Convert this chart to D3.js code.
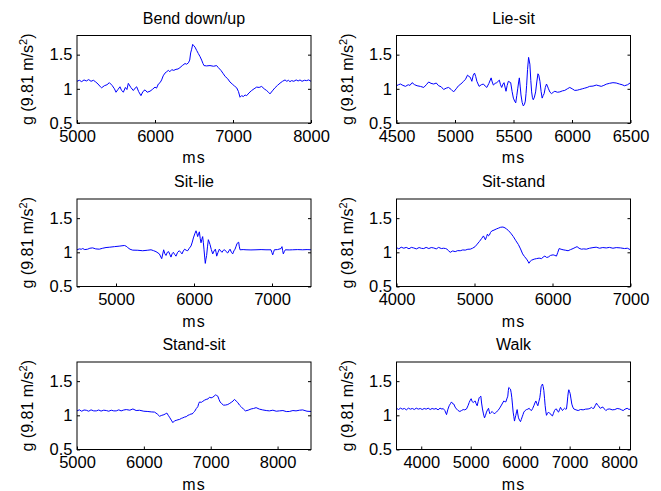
<!DOCTYPE html>
<html>
<head>
<meta charset="utf-8">
<script src="https://cdn.jsdelivr.net/npm/d3@7"></script>
<style>
body { margin: 0; background: #fff; }
text { font-family: "Liberation Sans", Arial, sans-serif; fill: #000; }
</style>
</head>
<body>
<script>
// accelerometer magnitude, [ms, g]
var bendDownUp = [
[5000,1.11],[5030,1.125],[5060,1.105],[5090,1.13],[5120,1.115],[5150,1.135],[5180,1.11],[5210,1.125],[5240,1.1],[5270,1.07],
[5300,1.03],[5316,1.015],[5350,1.045],[5385,1.06],[5415,1.09],[5450,1.05],[5480,1.0],[5500,0.95],[5525,0.99],[5551,1.03],
[5570,0.98],[5594,0.95],[5620,1.02],[5640,0.99],[5658,1.08],[5690,1.02],[5722,0.975],[5745,1.01],[5765,1.03],[5790,0.96],
[5820,0.90],[5845,0.96],[5872,0.985],[5900,0.95],[5936,0.965],[5965,0.99],[6000,1.025],[6020,1.01],[6043,1.07],[6065,1.09],
[6085,1.13],[6105,1.19],[6128,1.23],[6150,1.25],[6171,1.27],[6190,1.25],[6214,1.28],[6240,1.27],[6269,1.285],[6295,1.29],
[6320,1.31],[6350,1.34],[6385,1.37],[6405,1.36],[6428,1.38],[6445,1.42],[6457,1.525],[6470,1.58],[6483,1.65],[6498,1.63],
[6513,1.61],[6535,1.56],[6556,1.515],[6578,1.47],[6598,1.42],[6615,1.37],[6628,1.34],[6660,1.335],[6705,1.34],[6750,1.33],
[6790,1.34],[6812,1.31],[6845,1.27],[6876,1.22],[6900,1.18],[6930,1.15],[6961,1.10],[6990,1.07],[7020,1.04],[7047,1.015],
[7070,0.96],[7090,0.877],[7110,0.9],[7132,0.887],[7155,0.91],[7175,0.90],[7205,0.94],[7239,0.975],[7270,1.0],[7303,1.025],
[7335,1.02],[7367,1.035],[7400,1.0],[7431,0.975],[7455,0.95],[7474,0.926],[7505,0.97],[7538,1.015],[7570,1.05],[7603,1.083],
[7635,1.11],[7667,1.13],[7690,1.11],[7710,1.125],[7730,1.105],[7752,1.12],[7780,1.11],[7810,1.13],[7835,1.115],[7859,1.13],
[7885,1.11],[7915,1.125],[7944,1.12],[7970,1.13],[8000,1.11]
];

var lieSit = [
[4500,1.045],[4517,1.06],[4534,1.07],[4555,1.05],[4577,1.036],[4600,1.06],[4615,1.05],[4633,1.09],[4655,1.06],[4676,1.045],
[4705,1.035],[4733,1.02],[4755,1.06],[4775,1.10],[4795,1.08],[4818,1.07],[4840,1.085],[4860,1.045],[4882,1.03],[4903,0.99],
[4925,1.01],[4945,1.02],[4968,0.99],[4988,0.955],[5010,1.0],[5030,1.045],[5050,1.07],[5073,1.11],[5090,1.14],[5107,1.20],
[5120,1.18],[5130,1.17],[5144,1.11],[5156,1.2],[5167,1.23],[5177,1.18],[5187,1.11],[5206,1.036],[5225,1.06],[5243,1.07],
[5258,1.04],[5272,1.02],[5290,1.08],[5309,1.16],[5318,1.1],[5328,1.055],[5343,1.08],[5357,1.09],[5379,1.127],[5389,1.06],
[5399,1.02],[5410,1.07],[5419,1.09],[5436,0.964],[5446,1.05],[5456,1.11],[5476,1.09],[5488,0.96],[5499,0.864],[5510,0.82],
[5519,0.795],[5528,0.9],[5536,1.0],[5544,1.1],[5550,1.16],[5557,1.04],[5564,0.91],[5574,0.8],[5584,0.75],[5593,0.77],
[5601,0.82],[5607,0.93],[5612,1.045],[5620,1.28],[5629,1.46],[5640,1.36],[5648,1.12],[5655,0.955],[5662,0.87],[5669,0.84],
[5679,0.88],[5689,0.955],[5699,1.1],[5709,1.22],[5716,1.2],[5726,1.11],[5736,0.96],[5745,0.864],[5753,0.9],[5762,0.93],
[5772,1.02],[5782,1.07],[5790,1.04],[5799,1.0],[5812,0.95],[5825,0.93],[5840,0.95],[5853,0.964],[5875,0.95],[5896,0.955],
[5918,0.97],[5938,0.977],[5960,1.0],[5981,1.02],[6002,1.0],[6023,0.977],[6045,0.98],[6066,0.99],[6088,1.0],[6109,1.01],
[6130,1.02],[6151,1.036],[6180,1.04],[6208,1.055],[6230,1.045],[6250,1.036],[6272,1.05],[6293,1.068],[6320,1.08],[6350,1.09],
[6378,1.085],[6406,1.07],[6428,1.06],[6449,1.045],[6475,1.06],[6500,1.09]
];

var sitLie = [
[4500,1.037],[4530,1.05],[4555,1.045],[4573,1.055],[4600,1.04],[4637,1.046],[4665,1.06],[4701,1.065],[4740,1.05],[4786,1.046],
[4830,1.06],[4872,1.07],[4920,1.075],[4979,1.083],[5040,1.09],[5107,1.10],[5130,1.09],[5150,1.07],[5180,1.045],[5214,1.032],
[5280,1.03],[5342,1.023],[5400,1.03],[5449,1.037],[5480,1.025],[5513,1.01],[5556,0.977],[5586,0.907],[5611,1.037],[5626,0.98],
[5641,0.954],[5658,1.0],[5675,1.01],[5690,0.97],[5705,0.93],[5720,0.98],[5735,1.0],[5752,0.97],[5769,0.944],[5790,1.0],
[5812,1.023],[5830,1.0],[5846,0.977],[5863,1.02],[5880,1.046],[5900,1.03],[5919,1.023],[5940,1.06],[5962,1.093],[5978,1.15],
[5992,1.21],[6010,1.27],[6026,1.315],[6036,1.28],[6047,1.23],[6058,1.27],[6069,1.30],[6080,1.2],[6090,1.14],[6100,1.19],
[6111,1.23],[6120,1.14],[6128,1.046],[6137,0.93],[6145,0.838],[6153,0.9],[6162,0.954],[6173,1.08],[6184,1.185],[6195,1.15],
[6205,1.116],[6222,1.04],[6240,0.977],[6257,1.02],[6274,1.046],[6283,1.0],[6291,0.944],[6308,1.0],[6325,1.046],[6342,1.02],
[6359,1.0],[6376,1.03],[6393,1.037],[6412,1.01],[6432,0.99],[6447,1.02],[6462,1.046],[6480,1.0],[6496,0.977],[6511,1.02],
[6526,1.046],[6540,1.09],[6552,1.13],[6573,1.148],[6580,1.09],[6590,1.037],[6630,1.04],[6667,1.037],[6730,1.035],[6795,1.037],
[6860,1.04],[6923,1.037],[6987,1.037],[6998,1.0],[7009,0.963],[7020,1.0],[7030,1.037],[7070,1.04],[7116,1.055],[7128,1.083],
[7136,1.03],[7145,0.977],[7158,1.01],[7171,1.037],[7220,1.035],[7265,1.037],[7330,1.04],[7393,1.037],[7450,1.04],[7500,1.037]
];

var sitStand = [
[4000,1.069],[4030,1.05],[4060,1.075],[4094,1.06],[4125,1.072],[4160,1.052],[4190,1.072],[4221,1.064],[4255,1.05],[4290,1.07],
[4320,1.058],[4349,1.055],[4380,1.072],[4415,1.055],[4445,1.07],[4477,1.064],[4510,1.05],[4540,1.072],[4575,1.055],[4604,1.06],
[4630,1.055],[4647,1.046],[4670,1.02],[4689,1.0],[4720,1.02],[4753,1.01],[4785,1.025],[4817,1.023],[4850,1.035],[4881,1.032],
[4915,1.045],[4945,1.046],[4975,1.06],[5008,1.083],[5035,1.12],[5064,1.16],[5090,1.2],[5115,1.24],[5128,1.21],[5140,1.183],
[5155,1.23],[5166,1.266],[5180,1.24],[5191,1.252],[5205,1.29],[5221,1.312],[5250,1.325],[5285,1.344],[5310,1.355],[5336,1.367],
[5365,1.37],[5391,1.358],[5412,1.34],[5434,1.32],[5465,1.28],[5498,1.23],[5530,1.17],[5562,1.115],[5590,1.05],[5617,0.977],
[5640,0.94],[5668,0.90],[5685,0.87],[5698,0.84],[5715,0.87],[5732,0.885],[5765,0.9],[5796,0.908],[5828,0.915],[5860,0.908],
[5880,0.93],[5902,0.945],[5925,0.925],[5945,0.93],[5975,0.955],[6008,0.963],[6030,0.955],[6051,0.945],[6068,1.0],[6085,1.055],
[6110,1.045],[6136,1.037],[6170,1.03],[6200,1.023],[6232,1.04],[6264,1.055],[6290,1.07],[6315,1.083],[6340,1.06],[6370,1.046],
[6400,1.05],[6434,1.046],[6475,1.06],[6519,1.069],[6560,1.075],[6604,1.06],[6645,1.07],[6689,1.064],[6730,1.072],[6775,1.06],
[6817,1.069],[6870,1.065],[6923,1.055],[6960,1.06],[7000,1.037]
];

var standSit = [
[5000,1.065],[5035,1.08],[5070,1.06],[5105,1.078],[5139,1.074],[5175,1.06],[5210,1.08],[5250,1.065],[5289,1.065],[5325,1.078],
[5360,1.062],[5400,1.075],[5438,1.07],[5475,1.06],[5512,1.075],[5550,1.065],[5587,1.065],[5625,1.08],[5660,1.065],[5700,1.078],
[5737,1.084],[5790,1.075],[5836,1.093],[5885,1.07],[5936,1.074],[6000,1.06],[6060,1.056],[6110,1.05],[6160,1.047],[6200,1.02],
[6235,0.986],[6268,1.0],[6300,1.009],[6320,1.02],[6344,1.033],[6365,1.0],[6384,0.972],[6410,0.93],[6434,0.893],[6460,0.92],
[6484,0.926],[6510,0.935],[6534,0.94],[6560,0.955],[6583,0.963],[6610,0.975],[6633,0.98],[6660,1.0],[6683,1.009],[6705,1.02],
[6723,1.019],[6740,1.04],[6758,1.056],[6785,1.1],[6807,1.126],[6820,1.17],[6832,1.195],[6860,1.19],[6882,1.205],[6905,1.22],
[6932,1.233],[6960,1.24],[6982,1.265],[7005,1.255],[7031,1.265],[7050,1.28],[7071,1.298],[7090,1.29],[7106,1.28],[7125,1.23],
[7141,1.195],[7165,1.17],[7191,1.149],[7220,1.15],[7255,1.158],[7285,1.175],[7315,1.195],[7335,1.21],[7355,1.233],[7380,1.21],
[7405,1.186],[7430,1.15],[7455,1.126],[7490,1.09],[7519,1.065],[7560,1.075],[7604,1.093],[7640,1.1],[7679,1.112],[7730,1.09],
[7778,1.079],[7830,1.07],[7878,1.065],[7930,1.075],[7980,1.06],[8027,1.065],[8080,1.07],[8130,1.055],[8176,1.056],[8230,1.07],
[8276,1.065],[8330,1.075],[8376,1.079],[8440,1.06],[8500,1.056]
];

var walk = [
[3500,1.103],[3540,1.085],[3580,1.105],[3620,1.09],[3660,1.1],[3700,1.08],[3740,1.105],[3780,1.09],[3820,1.1],[3860,1.085],
[3900,1.105],[3940,1.09],[3980,1.1],[4020,1.085],[4060,1.1],[4100,1.09],[4140,1.105],[4180,1.085],[4220,1.1],[4260,1.09],
[4300,1.1],[4340,1.08],[4380,1.105],[4420,1.09],[4443,1.1],[4477,1.07],[4511,1.01],[4540,1.09],[4565,1.14],[4590,1.17],
[4612,1.196],[4635,1.17],[4659,1.164],[4685,1.12],[4713,1.093],[4745,1.07],[4780,1.056],[4815,1.07],[4848,1.084],[4880,1.08],
[4915,1.093],[4945,1.14],[4969,1.187],[4990,1.22],[5009,1.243],[5030,1.2],[5050,1.187],[5070,1.2],[5090,1.21],[5110,1.17],
[5131,1.14],[5150,1.2],[5171,1.257],[5188,1.27],[5205,1.28],[5220,1.18],[5238,1.093],[5258,1.02],[5279,0.963],[5300,1.0],
[5319,1.047],[5340,1.08],[5360,1.103],[5373,1.06],[5387,1.023],[5410,1.04],[5434,1.056],[5454,1.04],[5474,1.023],[5498,1.035],
[5521,1.047],[5548,1.07],[5575,1.093],[5598,1.12],[5622,1.15],[5645,1.18],[5669,1.21],[5690,1.2],[5710,1.196],[5730,1.24],
[5750,1.28],[5760,1.36],[5770,1.407],[5787,1.395],[5804,1.383],[5818,1.33],[5831,1.257],[5845,1.15],[5858,1.047],[5872,0.98],
[5885,0.916],[5898,0.96],[5912,1.0],[5926,1.05],[5939,1.084],[5952,1.02],[5966,0.963],[5986,0.93],[6006,0.907],[6023,0.94],
[6040,0.977],[6057,1.01],[6074,1.047],[6100,1.07],[6128,1.084],[6155,1.09],[6182,1.103],[6205,1.08],[6229,1.07],[6252,1.1],
[6276,1.14],[6297,1.18],[6317,1.21],[6337,1.17],[6357,1.14],[6377,1.2],[6397,1.257],[6410,1.33],[6424,1.42],[6437,1.44],
[6451,1.458],[6465,1.42],[6478,1.364],[6492,1.25],[6505,1.14],[6518,1.06],[6532,1.0],[6553,1.03],[6573,1.047],[6593,1.03],
[6613,1.023],[6633,1.0],[6653,0.991],[6673,1.03],[6694,1.07],[6714,1.09],[6734,1.093],[6755,1.06],[6775,1.047],[6795,1.08],
[6815,1.117],[6835,1.09],[6855,1.07],[6876,1.09],[6896,1.103],[6916,1.09],[6936,1.093],[6950,1.18],[6963,1.28],[6973,1.34],
[6983,1.374],[6996,1.35],[7010,1.318],[7027,1.24],[7044,1.164],[7064,1.12],[7084,1.093],[7128,1.08],[7172,1.07],[7220,1.085],
[7273,1.08],[7320,1.09],[7374,1.093],[7410,1.1],[7442,1.117],[7465,1.1],[7489,1.103],[7515,1.14],[7543,1.178],[7563,1.15],
[7583,1.14],[7607,1.11],[7630,1.103],[7655,1.12],[7678,1.117],[7705,1.09],[7731,1.07],[7770,1.09],[7812,1.093],[7860,1.08],
[7913,1.084],[7960,1.1],[8014,1.093],[8050,1.08],[8082,1.07],[8120,1.09],[8163,1.103],[8200,1.085],[8230,1.093]
];

var titles = ["Bend down/up", "Lie-sit", "Sit-lie", "Sit-stand", "Stand-sit", "Walk"];
var xDomains = [[5000,8000],[4500,6500],[4500,7500],[4000,7000],[5000,8500],[3500,8230]];
var xTicks = [
  [5000,6000,7000,8000],
  [4500,5000,5500,6000,6500],
  [5000,6000,7000],
  [4000,5000,6000,7000],
  [5000,6000,7000,8000],
  [4000,5000,6000,7000,8000]
];
var yDomain = [0.5, 1.78];
var yTicks = [0.5, 1, 1.5];
var series = [bendDownUp, lieSit, sitLie, sitStand, standSit, walk];

var colLeft = [77, 396.5], plotW = 234,
    rowTop = [35.5, 199, 362], plotH = 87.5;

var svg = d3.select("body").append("svg")
    .attr("width", 661)
    .attr("height", 491);

series.forEach(function(data, i) {
  var g = svg.append("g")
      .attr("transform", "translate(" + colLeft[i % 2] + "," + rowTop[Math.floor(i / 2)] + ")");

  var x = d3.scaleLinear().domain(xDomains[i]).range([0, plotW]);
  var y = d3.scaleLinear().domain(yDomain).range([plotH, 0]);

  var line = d3.line()
      .x(function(d) { return x(d[0]); })
      .y(function(d) { return y(d[1]); });

  g.append("path")
      .datum(data)
      .attr("fill", "none")
      .attr("stroke", "#0000ff")
      .attr("stroke-width", 1)
      .attr("d", line);

  g.append("g")
      .attr("transform", "translate(0," + plotH + ")")
      .call(d3.axisBottom(x).tickValues(xTicks[i]).tickFormat(d3.format("d"))
        .tickSizeInner(-3).tickSizeOuter(0).tickPadding(7));

  g.append("g")
      .call(d3.axisLeft(y).tickValues(yTicks).tickFormat(function(d) { return d; })
        .tickSizeInner(-3).tickSizeOuter(0).tickPadding(4.5));

  g.append("g")
      .attr("transform", "translate(" + plotW + ",0)")
      .call(d3.axisRight(y).tickValues(yTicks).tickFormat("")
        .tickSizeInner(-3).tickSizeOuter(0));

  g.selectAll(".domain").remove();
  g.selectAll(".tick line").attr("stroke", "#000");
  g.selectAll(".tick text")
      .attr("fill", "#000")
      .style("font-size", "16.5px")
      .style("font-family", "'Liberation Sans', Arial, sans-serif");

  g.append("rect")
      .attr("width", plotW)
      .attr("height", plotH)
      .attr("fill", "none")
      .attr("stroke", "#000")
      .attr("stroke-width", 1);

  g.append("text")
      .attr("x", plotW / 2)
      .attr("y", -12)
      .attr("text-anchor", "middle")
      .style("font-size", "16px")
      .text(titles[i]);

  g.append("text")
      .attr("x", plotW / 2)
      .attr("y", plotH + 40)
      .attr("text-anchor", "middle")
      .style("font-size", "16px")
      .style("letter-spacing", "1px")
      .text("ms");

  var yl = g.append("text")
      .attr("transform", "translate(-44," + (plotH / 2) + ") rotate(-90)")
      .attr("text-anchor", "middle")
      .style("font-size", "16px");
  yl.append("tspan").text("g (9.81 m/s");
  yl.append("tspan").attr("dy", -6).style("font-size", "11px").text("2");
  yl.append("tspan").attr("dy", 6).text(")");
});
</script>
</body>
</html>
